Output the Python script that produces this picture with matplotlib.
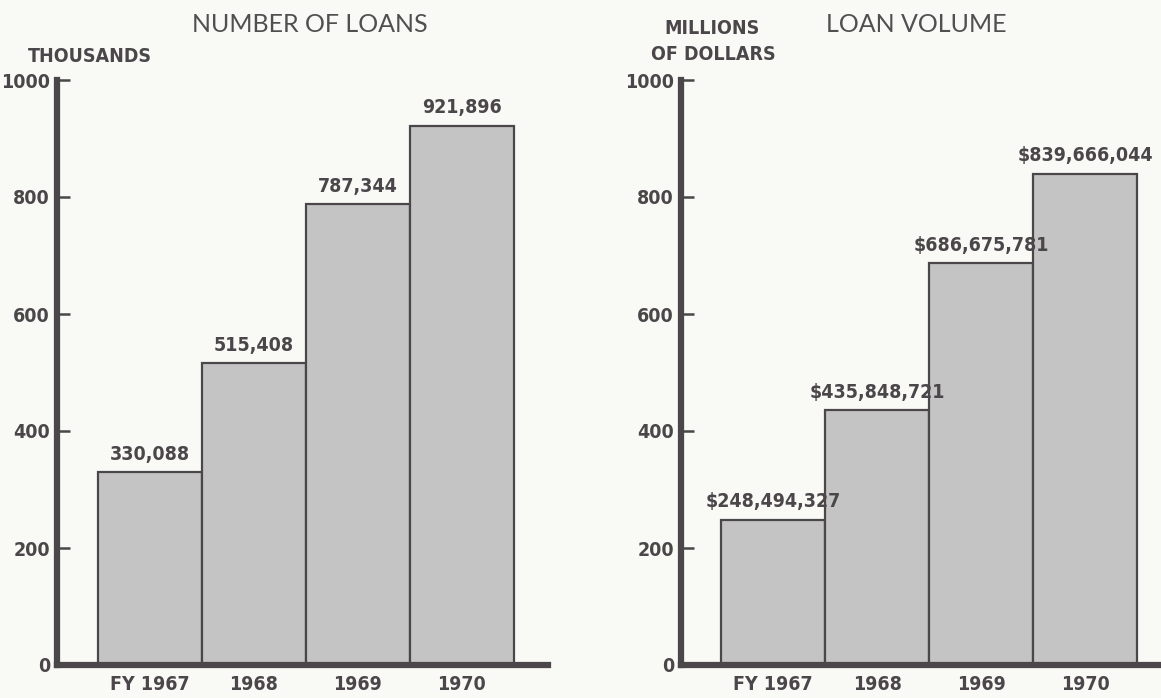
import matplotlib.pyplot as plt
from matplotlib import font_manager

# data
years = ['FY 1967', '1968', '1969', '1970']
loans_thousands = [330.088, 515.408, 787.344, 921.896]
loans_labels = ['330,088', '515,408', '787,344', '921,896']
volume_millions = [248.494327, 435.848721, 686.675781, 839.666044]
volume_labels = ['$248,494,327', '$435,848,721', '$686,675,781', '$839,666,044']
yticks = [0, 200, 400, 600, 800, 1000]

W, H = 1161, 698
bg = '#f9f9f5'
ink = '#4a4649'
bar_col = '#c4c4c4'

# narrow bold face for the numbers, like the lettering of the original
names = {f.name for f in font_manager.fontManager.ttflist}
if 'Liberation Sans Narrow' in names:
    narrow = dict(family='Liberation Sans Narrow', fontweight='bold')
else:
    narrow = dict(family='DejaVu Sans', fontstretch='condensed', fontweight='bold')


def fx(px):
    return px / W


def fy(py):
    return 1 - py / H


fig = plt.figure(figsize=(W / 100, H / 100), dpi=100, facecolor=bg)

# axes boxes in pixels: left spine, right end, y=0 and y=1000
ax1 = fig.add_axes([fx(57), fy(665), fx(548 - 57), (665 - 80) / H])
ax2 = fig.add_axes([fx(681), fy(665), fx(1161 - 681), (665 - 80) / H])


def panel(ax, vals, labels, xl):
    ax.set_facecolor(bg)
    x = range(len(vals))
    ax.bar(x, vals, width=1.0, color=bar_col, edgecolor=ink, linewidth=1.6, zorder=2)
    for i, (v, s) in enumerate(zip(vals, labels)):
        ax.annotate(s, (i, v), xytext=(0, 6), textcoords='offset points',
                    ha='center', va='bottom', fontsize=14, color=ink, **narrow)
    ax.set_xlim(*xl)
    ax.set_ylim(0, 1000)
    ax.set_yticks(yticks)
    ax.set_xticks(list(x))
    ax.set_xticklabels(years)
    for sp in ['top', 'right']:
        ax.spines[sp].set_visible(False)
    for sp in ['left', 'bottom']:
        ax.spines[sp].set_linewidth(4.5)
        ax.spines[sp].set_color(ink)
        ax.spines[sp].set_zorder(3)
    ax.tick_params(axis='y', direction='in', length=9, width=1.8, color=ink, pad=5)
    ax.tick_params(axis='x', length=0, pad=7)
    for t in ax.get_xticklabels() + ax.get_yticklabels():
        t.set_family(narrow['family'])
        t.set_fontweight('bold')
        if 'fontstretch' in narrow:
            t.set_fontstretch('condensed')
        t.set_fontsize(14)
        t.set_color(ink)


panel(ax1, loans_thousands, loans_labels, (-0.894, 3.83))
panel(ax2, volume_millions, volume_labels, (-0.885, 3.73))

title_font = dict(fontsize=18, color='#505050', family=['Lato', 'DejaVu Sans'], ha='center', va='center')
fig.text(fx(310), fy(25), 'NUMBER OF LOANS', **title_font)
fig.text(fx(916), fy(25), 'LOAN VOLUME', **title_font)

unit_font = dict(fontsize=14, color=ink, ha='center', va='center', **narrow)
fig.text(fx(90), fy(57), 'THOUSANDS', **unit_font)
fig.text(fx(712), fy(28), 'MILLIONS', **unit_font)
fig.text(fx(713), fy(55), 'OF DOLLARS', **unit_font)

fig.savefig('out.png', dpi=100, facecolor=bg)
